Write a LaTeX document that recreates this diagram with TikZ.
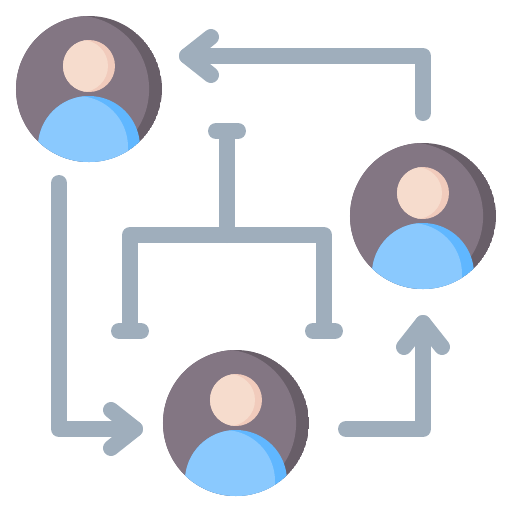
\documentclass[tikz,border=0pt]{standalone}
\definecolor{face}{HTML}{837683}
\definecolor{rim}{HTML}{685E68}
\definecolor{skin}{HTML}{F6DCCD}
\definecolor{skind}{HTML}{F1CBBC}
\definecolor{shirt}{HTML}{8AC9FE}
\definecolor{shirtd}{HTML}{60B7FF}
\definecolor{steel}{HTML}{9FAEBC}
\tikzset{
  x=0.02cm,y=-0.02cm,
  flow/.style={draw=steel,line width=0.32cm,line cap=round,line join=round},
  org/.style={draw=steel,line width=0.32cm,line cap=round,line join=round},
  pics/person/.style={code={
    \begin{scope}
      \clip (0,0) circle (73);
      \fill[rim] (0,0) circle (73);
      \fill[face] (-13.5,0) circle (73.6);
      \fill[shirtd] (0,58) circle (51);
      \begin{scope}
        \clip (0,58) circle (51);
        \fill[shirt] (-12,58) circle (51);
      \end{scope}
    \end{scope}
    \fill[skind] (0,-23) circle (26);
    \begin{scope}
      \clip (0,-23) circle (26);
      \fill[skin] (-7,-23) circle (26);
    \end{scope}
  }}
}
\begin{document}
\begin{tikzpicture}
\useasboundingbox (0,0) rectangle (512,512);
\coordinate (pa) at (89,89);
\coordinate (pb) at (423,216);
\coordinate (pc) at (236,423);
\pic at (pa) {person};
\pic at (pb) {person};
\pic at (pc) {person};
% flow arrows
\coordinate (a1) at (423,113); \coordinate (a2) at (423,56); \coordinate (a3) at (187,56);
\draw[flow] (a1) -- (a2) -- (a3);
\draw[flow] (211,37) -- (a3) -- (211,75);
\coordinate (b1) at (59,183); \coordinate (b2) at (59,429); \coordinate (b3) at (135,429);
\draw[flow] (b1) -- (b2) -- (b3);
\draw[flow] (111,410) -- (b3) -- (111,448);
\coordinate (c1) at (346,429); \coordinate (c2) at (423,429); \coordinate (c3) at (423,323);
\draw[flow] (c1) -- (c2) -- (c3);
\draw[flow] (404,347) -- (c3) -- (442,347);
% org chart
\coordinate (o1) at (227,131); \coordinate (o2) at (227,235);
\coordinate (o3) at (130,331); \coordinate (o4) at (130,235);
\coordinate (o5) at (324,235); \coordinate (o6) at (324,331);
\draw[org] (o3) -- (o4) -- (o5) -- (o6);
\draw[org] (o1) -- (o2);
\draw[org] (216,131) -- (238,131);
\draw[org] (119,331) -- (141,331);
\draw[org] (313,331) -- (335,331);
\end{tikzpicture}
\end{document}
